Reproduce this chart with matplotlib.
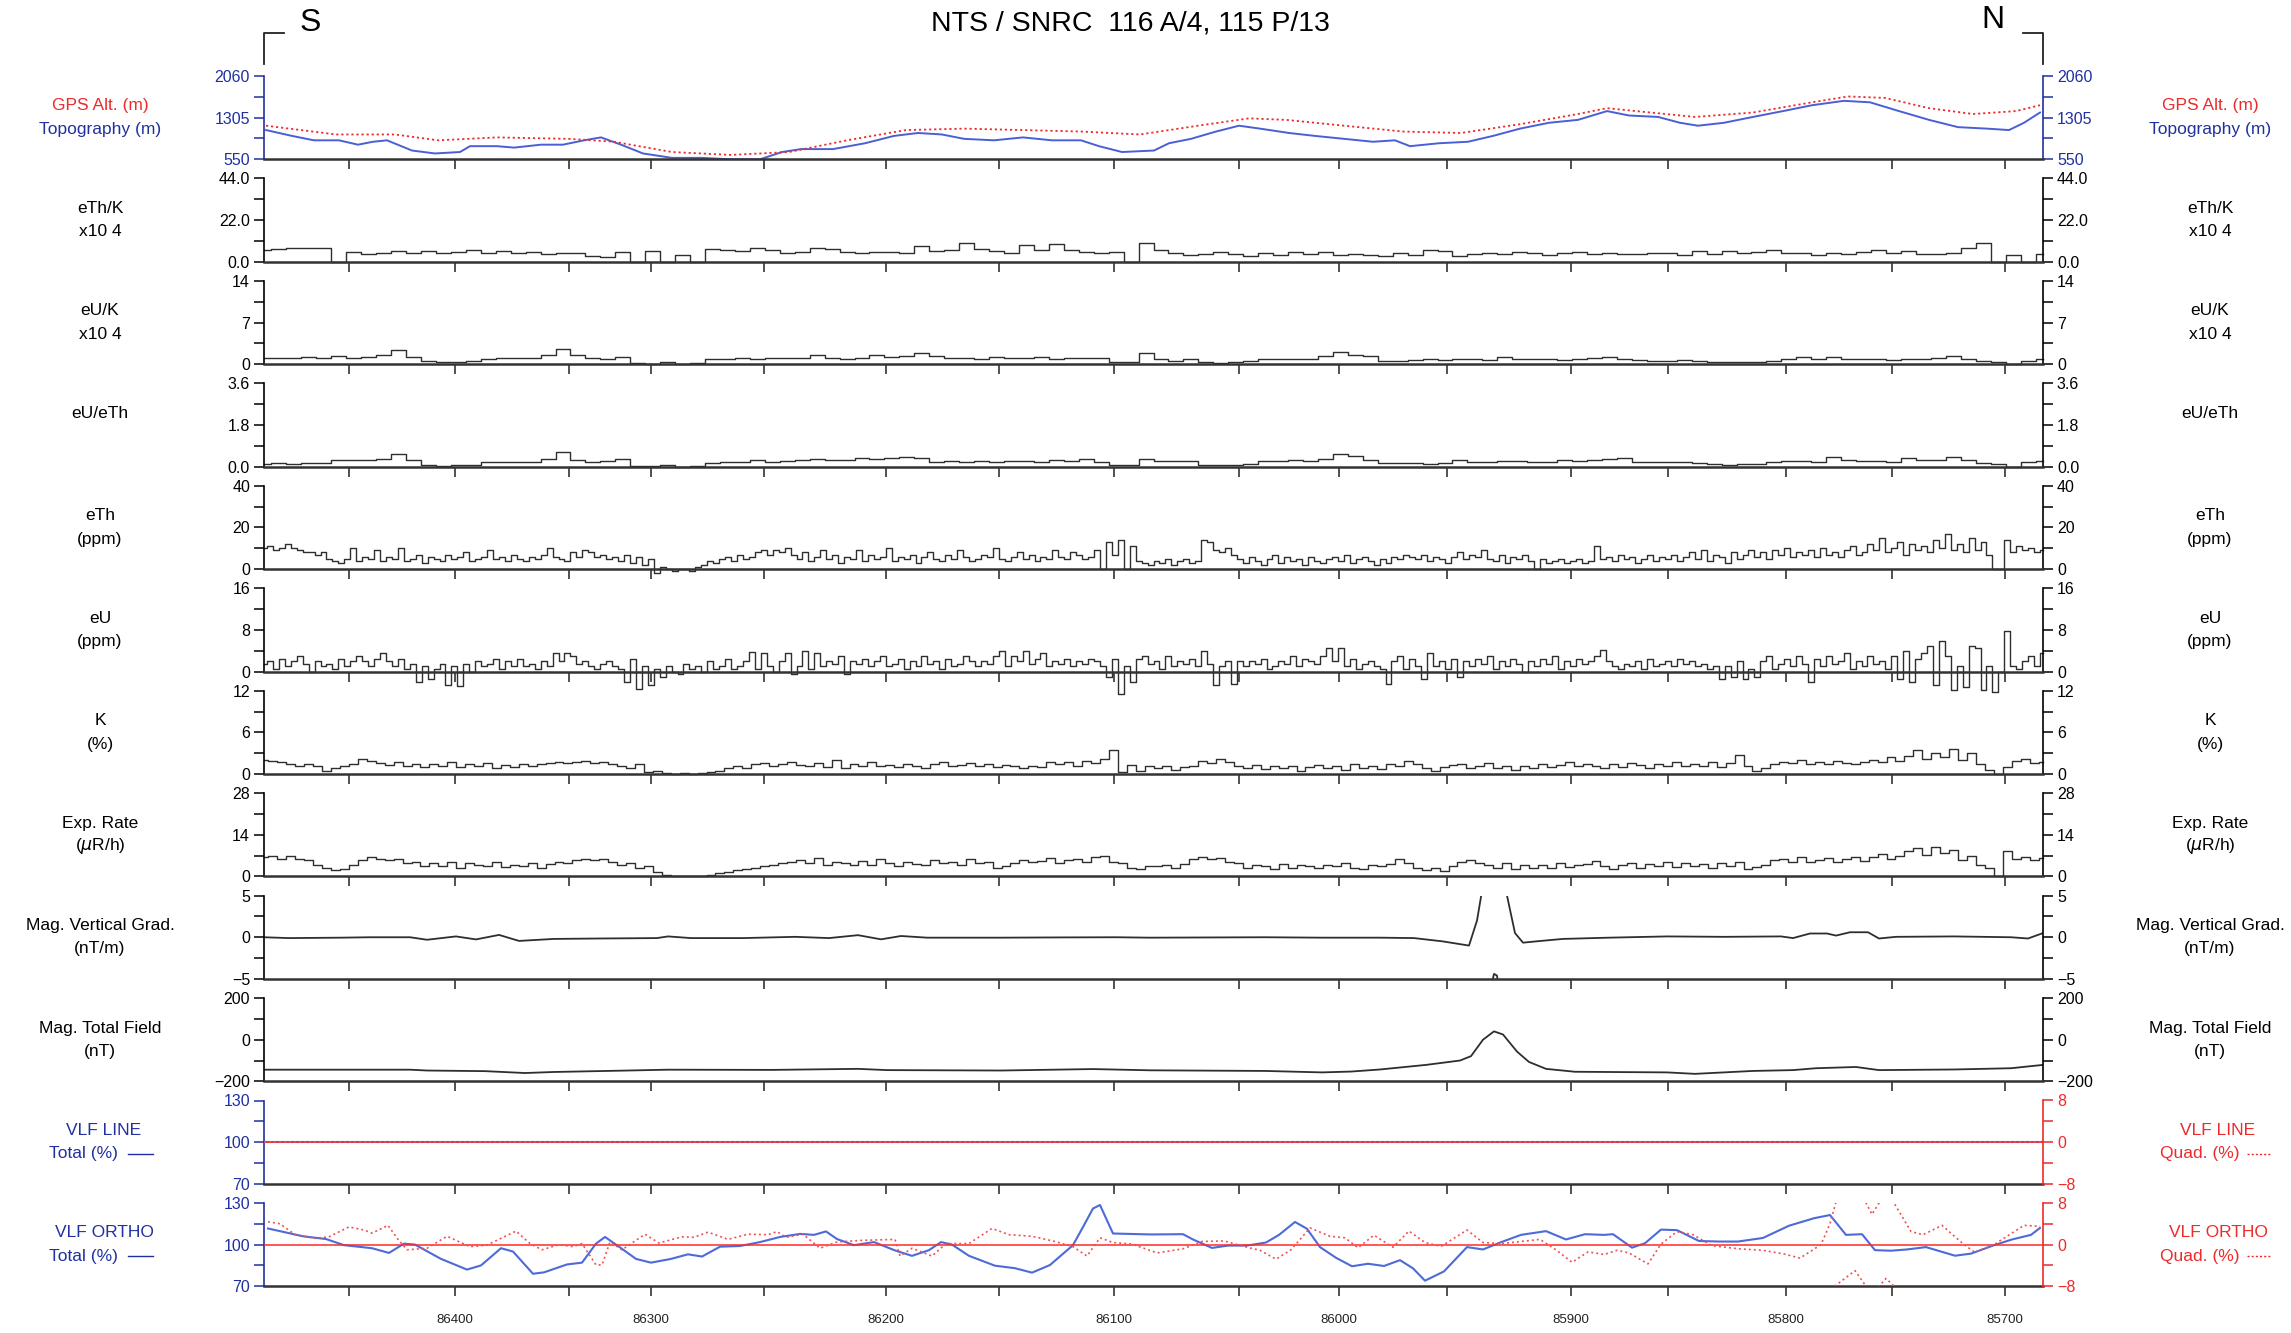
import numpy as np
import matplotlib
matplotlib.use("Agg")
import matplotlib.pyplot as plt
from matplotlib.lines import Line2D

# fonts: narrow for numbers, regular for labels
NARROW = ['Liberation Sans Narrow', 'Liberation Sans', 'DejaVu Sans']
REGULAR = ['Liberation Sans', 'DejaVu Sans']
plt.rcParams['font.family'] = NARROW

RED = '#ee2a2a'
BLUE = '#2030a0'
TRACE = '#2e2e2e'

# ---------------------------------------------------------------
# Data (x = distance along the flight line, km)
LINE_KM = 17.79

# fiducial ticks every 50 and where they fall along the line
fid_ticks = [86450, 86400, 86350, 86300, 86250, 86200, 86150, 86100,
             86050, 86000, 85950, 85900, 85850, 85800, 85750, 85700]
fid_km = [0.85, 1.91, 3.05, 3.87, 5.00, 6.22, 7.35, 8.50,
          9.75, 10.75, 11.83, 13.07, 14.04, 15.22, 16.28, 17.41]

topo_km = [0.02, 0.28, 0.50, 0.75, 0.94, 1.09, 1.23, 1.48, 1.71, 1.96, 2.06, 2.33,
           2.50, 2.77, 2.99, 3.20, 3.37, 3.57, 3.79, 4.08, 4.37, 4.67, 4.96, 5.18,
           5.37, 5.69, 6.01, 6.30, 6.54, 6.78, 7.00, 7.30, 7.59, 7.88, 8.17, 8.35,
           8.58, 8.90, 9.05, 9.27, 9.52, 9.75, 9.96, 10.25, 10.51, 10.80, 11.09, 11.31,
           11.46, 11.75, 12.04, 12.29, 12.56, 12.85, 13.14, 13.43, 13.65, 13.94, 14.16, 14.34,
           14.60, 14.89, 15.19, 15.48, 15.80, 16.06, 16.35, 16.65, 16.94, 17.23, 17.45, 17.60,
           17.76]
topo_m = [1080, 974, 894, 894, 815, 868, 894, 709, 656, 682, 788, 788,
          762, 815, 815, 894, 947, 815, 656, 576, 576, 550, 550, 682,
          735, 735, 841, 974, 1027, 1000, 921, 894, 947, 894, 894, 788,
          682, 709, 841, 921, 1053, 1159, 1106, 1027, 974, 921, 868, 894,
          788, 841, 868, 974, 1106, 1212, 1265, 1424, 1344, 1318, 1212, 1159,
          1212, 1318, 1424, 1530, 1610, 1583, 1424, 1265, 1133, 1106, 1080, 1212,
          1398]

gps_km = [0.02, 0.72, 1.31, 1.74, 2.33, 3.06, 3.50, 4.08, 4.67, 5.25, 5.83, 6.42,
          7.00, 7.59, 8.17, 8.76, 9.34, 9.85, 10.22, 10.80, 11.39, 11.97, 12.56, 13.14,
          13.43, 13.72, 14.31, 14.89, 15.48, 15.84, 16.21, 16.65, 17.09, 17.52, 17.76]
gps_m = [1159, 1000, 1000, 894, 947, 920, 868, 682, 629, 682, 894, 1080,
         1106, 1080, 1053, 1000, 1159, 1292, 1265, 1159, 1053, 1027, 1186, 1371,
         1477, 1424, 1318, 1398, 1583, 1689, 1663, 1477, 1371, 1424, 1530]

eth_k = [6, 6.5, 7.2, 7.5, 7, 0, 5, 4.2, 4.8, 5.5, 4.5, 5.8, 4.8, 5.2, 6, 4.5, 5.5, 4.6, 5, 4.2,
         4.8, 4.5, 3, 2.5, 5, 0, 5.5, 0, 3.5, 0, 6.5, 6, 5.5, 7, 6.2, 4.5, 5, 7.5, 6.5, 5,
         4.5, 5.2, 5, 4.8, 8.5, 5.5, 6, 9.8, 6.5, 5.5, 4.8, 9, 6, 9.4, 6.2, 5, 4.5, 5.2, 0, 10,
         6, 4.5, 3.5, 4, 5.3, 4, 3.2, 4.5, 3.8, 5.3, 4.2, 5.3, 3.5, 4.2, 3.8, 3.2, 4.5, 3.8, 6, 5.8,
         3.2, 4, 4.8, 4.2, 5.2, 4.5, 3.8, 4.5, 5, 4.2, 4.6, 3.9, 4.3, 4.8, 4.5, 3.8, 5.6, 4.2, 5.6, 4.5,
         5, 6.2, 4.5, 4.8, 3.8, 4.5, 4, 5.2, 6.2, 4.8, 5.5, 4.2, 4, 4.6, 7, 9.7, 0, 3.8, 0, 4.2]

eu_k = [1.0, 1.1, 1.0, 1.2, 1.1, 1.3, 1.1, 1.2, 1.6, 2.4, 1.2, 0.5, 0.4, 0.4, 0.5, 0.9, 1.0, 1.0, 1.1, 1.6,
        2.6, 1.6, 1.0, 0.8, 1.2, 0.2, 0.1, 0.3, 0.0, 0.2, 0.8, 0.9, 1.0, 0.9, 1.0, 1.1, 1.0, 1.5, 1.0, 0.9,
        1.1, 1.5, 1.2, 1.4, 1.9, 1.3, 1.0, 1.1, 0.9, 1.2, 1.0, 1.1, 1.2, 0.9, 1.0, 1.1, 1.0, 0.4, 0.4, 1.8,
        0.8, 0.6, 0.9, 0.3, 0.2, 0.3, 0.6, 0.8, 0.9, 0.8, 0.9, 1.3, 2.0, 1.5, 1.3, 0.5, 0.5, 0.7, 0.8, 0.7,
        0.9, 0.8, 0.7, 1.2, 0.9, 0.8, 0.9, 0.7, 0.8, 1.0, 1.2, 0.8, 0.7, 0.6, 0.6, 0.7, 0.6, 0.4, 0.4, 0.3,
        0.4, 0.6, 0.9, 1.2, 0.8, 1.2, 0.9, 0.8, 0.9, 0.7, 0.9, 0.8, 1.0, 1.3, 0.9, 0.5, 0.3, 0.0, 0.6, 0.8]

eu_eth = [0.12, 0.14, 0.10, 0.15, 0.16, 0.27, 0.30, 0.28, 0.33, 0.56, 0.30, 0.06, 0.04, 0.05, 0.07, 0.20, 0.19, 0.21, 0.20, 0.35,
          0.64, 0.30, 0.22, 0.25, 0.33, 0.03, 0.01, 0.05, 0.00, 0.04, 0.17, 0.19, 0.18, 0.27, 0.22, 0.25, 0.28, 0.33, 0.27, 0.30,
          0.37, 0.35, 0.37, 0.43, 0.36, 0.22, 0.25, 0.21, 0.24, 0.22, 0.26, 0.24, 0.21, 0.27, 0.25, 0.32, 0.20, 0.05, 0.08, 0.33,
          0.25, 0.23, 0.26, 0.07, 0.06, 0.08, 0.12, 0.26, 0.25, 0.27, 0.24, 0.35, 0.53, 0.46, 0.30, 0.15, 0.14, 0.16, 0.13, 0.17,
          0.29, 0.22, 0.20, 0.26, 0.24, 0.22, 0.21, 0.27, 0.25, 0.29, 0.33, 0.37, 0.22, 0.18, 0.20, 0.21, 0.17, 0.11, 0.09, 0.13,
          0.12, 0.18, 0.26, 0.24, 0.22, 0.42, 0.28, 0.24, 0.26, 0.22, 0.37, 0.27, 0.30, 0.40, 0.30, 0.15, 0.10, 0.00, 0.20, 0.24]

eth_ppm = [10, 11, 9, 10, 12, 10, 9, 8, 8, 7, 8, 5, 4, 3, 5, 10, 4, 6, 5, 9,
           4, 6, 5, 10, 4, 5, 7, 3, 6, 5, 4, 7, 5, 6, 8, 4, 5, 6, 9, 5,
           6, 4, 7, 5, 4, 6, 5, 7, 10, 6, 5, 4, 8, 6, 9, 8, 6, 7, 5, 6,
           4, 7, 3, 6, 2, 5, -2, 1, 0, -1, 0, 0, -1, 1, 2, 4, 3, 5, 6, 4,
           7, 5, 6, 8, 9, 7, 9, 8, 10, 7, 5, 8, 4, 6, 9, 5, 7, 3, 6, 5,
           9, 4, 7, 5, 6, 10, 4, 6, 5, 7, 3, 6, 8, 5, 4, 7, 5, 9, 6, 4,
           5, 7, 6, 10, 5, 4, 6, 8, 5, 7, 4, 6, 5, 9, 6, 5, 8, 7, 5, 6,
           9, 0, 13, 7, 14, 0, 11, 4, 3, 2, 4, 3, 5, 2, 4, 5, 3, 4, 14, 13,
           9, 8, 10, 7, 5, 3, 6, 4, 2, 5, 7, 3, 6, 4, 5, 2, 6, 4, 3, 5,
           6, 4, 7, 3, 5, 6, 4, 2, 5, 3, 6, 5, 7, 6, 5, 7, 4, 6, 5, 3,
           6, 8, 5, 7, 6, 9, 5, 4, 7, 3, 6, 5, 7, 4, 0, 5, 3, 4, 5, 3,
           4, 5, 3, 4, 11, 5, 6, 4, 7, 5, 6, 3, 5, 7, 4, 6, 5, 7, 4, 6,
           8, 5, 9, 4, 7, 6, 3, 8, 5, 7, 9, 6, 8, 5, 9, 7, 10, 6, 8, 7,
           9, 6, 10, 7, 8, 6, 9, 11, 7, 8, 12, 9, 15, 8, 10, 13, 7, 12, 9, 11,
           8, 14, 10, 17, 9, 12, 8, 15, 9, 13, 7, 0, 0, 14, 8, 11, 9, 10, 8, 9]

eu_ppm = [1.5, 2, 0.5, 2.5, 1, 2, 3, 1.5, 0, 2, 1, 1.5, 0.5, 2.5, 1, 2, 3, 2, 1, 2.5,
          3.5, 2, 1, 2.5, 0.5, 1.5, -2, 1, -1.5, 0.5, 1.5, -2.5, 1, -2.7, 1.5, 0, 2, 1, 1.5, 2.5,
          0.5, 2, 1, 2.5, 1, 1.5, 0.5, 2, 1, 3.5, 2, 3.5, 3, 1.5, 2, 1, 0.5, 1.5, 2, 1,
          0.5, -2, 2.5, -3.3, 1, -2.5, 0.5, -1, 1, 0, -0.5, 1.5, 0.5, 1, 0, 2, 0.5, 1, 2.5, 0.5,
          1, 2, 3.8, 0.5, 3.5, 1, 0, 2, 3.5, -0.5, 1, 4, 0.5, 3.5, 1, 2, 1.5, 3, -0.5, 2,
          1.5, 2.5, 1, 2, 3, 1, 1.5, 2.5, 0.5, 2, 1, 3, 1.5, 2, 0.5, 2.5, 1, 1.5, 3, 2,
          1, 2, 1.5, 3, 4, 1, 3, 2, 4, 1.5, 2.5, 3.5, 1, 2, 1.5, 2.5, 1, 2, 1.5, 2.5,
          2, 1, -1, 2.5, -4.4, 1, -2, 2.5, 3, 1.5, 2, 0.5, 3, 1, 2, 1.5, 2.5, 1, 4, 1.5,
          -2.5, 1, 2, -2.3, 2, 1, 2, 1.5, 2.5, 0.5, 1, 2, 1.5, 3, 1, 2.5, 2, 1.5, 3, 4.6,
          2, 4.5, 1, 2.5, 0.5, 1.5, 2, 1, 0.5, -2.4, 2, 3, 0.5, 2.5, 1, -1.5, 3.5, 1, 2, 0.5,
          2.5, -1, 2, 1, 2.5, 1.5, 3, 0.5, 2, 1, 2.5, 1.5, 0, 2, 1, 2.5, 1.5, 3, 0.5, 2,
          1, 2.5, 1.5, 2, 3, 4.2, 2, 1, 0.5, 1.5, 1, 2, 0.5, 2.5, 1, 1.5, 2, 1, 2.5, 1.5,
          2, 1, 1.5, 0.5, 1, -1.5, 1, -1, 2, -1.5, 0.5, -1, 2, 3, 0.5, 1.5, 2.5, 1, 3, 1.5,
          -2, 2.5, 1, 3, 1.5, 2, 3.5, 0.5, 2, 1, 3, 1.5, 2, 0.5, 3, -1.5, 4, -2, 2.5, 3.5,
          5, -2.5, 5.8, 3, -3.5, 1, -3, 5, 4.5, -3.5, 1, -4, 0, 7.8, 1, 0.5, 2, 3, 1, 3.5]

k_pct = [2, 1.9, 1.7, 1.5, 1.2, 1.4, 1.1, 0.4, 0.8, 1.2, 1.5, 2.1, 1.9, 1.6, 1.3, 1.7, 1.2, 1.4, 1.0, 1.5,
         1.2, 1.8, 1.0, 1.4, 1.1, 1.6, 0.9, 1.3, 1.0, 1.5, 1.2, 1.4, 1.6, 1.8, 1.6, 1.7, 1.9, 1.6, 1.8, 1.4,
         1.2, 0.8, 1.4, 0.3, 0.5, 0.1, 0.0, 0.1, 0.0, 0.1, 0.3, 0.5, 0.8, 1.1, 0.9, 1.4, 1.6, 1.2, 1.5, 1.7,
         1.3, 1.2, 1.6, 1.0, 2.0, 0.9, 1.4, 1.2, 1.7, 1.1, 1.3, 1.0, 1.5, 1.2, 0.9, 1.4, 1.8, 1.1, 1.3, 1.6,
         1.2, 1.5, 1.0, 1.3, 1.1, 0.8, 1.2, 1.0, 1.8, 1.4, 1.7, 1.2, 1.9, 1.6, 2.2, 3.4, 0.3, 1.3, 0.4, 1.2,
         0.8, 1.1, 0.6, 1.0, 1.2, 1.9, 1.6, 2.1, 1.7, 1.2, 0.9, 1.3, 0.7, 1.1, 0.8, 1.2, 0.5, 1.0, 1.3, 0.9,
         1.1, 0.6, 1.4, 0.9, 1.2, 0.7, 1.5, 1.1, 1.9, 1.4, 0.9, 0.5, 1.0, 1.3, 1.5, 0.8, 1.2, 1.6, 0.9, 1.2,
         0.6, 1.1, 0.8, 1.4, 1.0, 1.3, 1.7, 1.1, 1.5, 1.2, 0.8, 1.4, 1.0, 1.6, 1.3, 0.9, 1.5, 1.2, 1.8, 1.1,
         1.5, 1.2, 1.7, 1.0, 1.6, 2.7, 1.2, 0.4, 0.8, 1.5, 1.8, 1.6, 2.0, 1.5, 1.7, 1.4, 1.9, 1.6, 1.5, 1.8,
         2.0, 1.7, 2.4, 1.9, 2.6, 3.4, 2.2, 3.0, 2.5, 3.6, 2.0, 3.0, 1.4, 0.6, 0.0, 1.0, 1.9, 2.1, 1.6, 1.8]

exp_rate = [6.5, 7, 6, 6.8, 6, 5.5, 4, 3, 2, 2.5, 4, 5.5, 6.5, 6, 5.5, 6, 4.5, 5, 3.5, 4.5,
            3.5, 5, 3, 4.5, 4, 3.5, 4.8, 3.2, 4, 3.5, 4.5, 3, 4.2, 5, 4.5, 5.5, 6, 5.5, 5.8, 4.8,
            4, 4.5, 3, 3.5, 1.5, 0.5, 0.2, 0, 0.3, 0.2, 0.5, 1, 1.5, 2, 2.5, 3, 3.5, 4, 4.5, 5,
            5.5, 4.5, 6.2, 4, 5, 4.5, 3.8, 5.2, 4, 6, 4.5, 3.5, 5, 4.2, 3.8, 5.5, 4.5, 5, 4, 5.8,
            4.5, 5, 3, 3.5, 4.5, 5.5, 4.8, 5.2, 6.2, 4.5, 5.5, 6, 5, 6.5, 7, 5, 4.5, 3, 2.5, 3.5,
            3.5, 4, 3, 4.2, 6, 6.5, 5.8, 6.2, 5, 4.5, 3, 4, 3.5, 2.5, 4.2, 3, 4, 3.5, 2.8, 4,
            3.5, 4.5, 3, 2.5, 4, 3.5, 4.2, 5.8, 4.5, 3, 2, 2.8, 1.8, 3.5, 4.8, 5.5, 4.5, 4, 3, 4.5,
            2.5, 3.8, 3, 4, 2.8, 4.5, 3.2, 3.8, 4.2, 5.2, 3.5, 2.5, 3.8, 4.5, 3, 4.2, 3.5, 4.8, 3.2, 4.5,
            3.5, 4.2, 3, 4.6, 3.5, 4.8, 2.5, 3.2, 4, 5.5, 6, 5, 6.5, 4.8, 5.5, 6.2, 5, 5.8, 6.5, 5.2,
            6.5, 7.5, 6, 7, 8.5, 9.5, 7.2, 9.8, 8, 9, 5.5, 7, 4, 3, 0, 8.6, 6, 6.5, 5.5, 6.2]

vg_km = [0.0, 0.25, 0.77, 1.06, 1.46, 1.63, 1.92, 2.12, 2.35, 2.55, 2.90, 3.35,
         3.93, 4.04, 4.27, 4.79, 5.31, 5.65, 5.94, 6.17, 6.37, 6.63, 7.37, 7.95,
         8.52, 8.86, 10.01, 10.58, 11.16, 11.50, 11.79, 12.05, 12.13, 12.20, 12.26, 12.30,
         12.33, 12.37, 12.43, 12.51, 12.59, 12.76, 12.99, 13.45, 14.03, 14.60, 15.17, 15.29,
         15.46, 15.63, 15.72, 15.86, 16.04, 16.15, 16.32, 16.90, 17.47, 17.64, 17.79]
vg_nt = [0.0, -0.1, -0.05, 0.0, 0.0, -0.3, 0.1, -0.26, 0.28, -0.44, -0.2, -0.15,
         -0.1, 0.1, -0.1, -0.1, 0.05, -0.1, 0.25, -0.25, 0.15, -0.05, -0.05, -0.02,
         0.0, -0.05, 0.0, -0.05, -0.05, -0.1, -0.5, -1.0, 2.0, 7.0, 13.5, 15.6,
         15.4, 12.0, 5.0, 0.5, -0.65, -0.45, -0.2, -0.05, 0.1, 0.05, 0.1, -0.1,
         0.45, 0.45, 0.2, 0.6, 0.6, -0.15, 0.05, 0.1, 0.0, -0.15, 0.5]

tf_km = [0.0, 1.46, 1.63, 2.21, 2.61, 2.90, 3.64, 4.04, 5.08, 5.94, 6.23, 7.37,
         8.29, 8.86, 10.01, 10.58, 10.87, 11.16, 11.62, 11.96, 12.07, 12.19, 12.30, 12.39,
         12.53, 12.65, 12.82, 13.11, 14.03, 14.31, 14.89, 15.29, 15.52, 15.92, 16.15, 16.90,
         17.47, 17.79]
tf_nt = [-144, -144, -148, -151, -160, -155, -148, -144, -145, -140, -146, -148,
         -141, -147, -150, -157, -153, -143, -121, -100, -79, 0, 40, 25,
         -57, -107, -140, -154, -157, -164, -150, -146, -137, -131, -146, -143,
         -137, -121]

vlf_line_km = [0.0, LINE_KM]
vlf_line_total = [100.0, 100.0]
vlf_line_quad = [0.0, 0.0]

vlf_tot_km = [0.04, 0.39, 0.62, 0.80, 1.08, 1.25, 1.40, 1.51, 1.77, 2.03, 2.17, 2.37,
              2.49, 2.69, 2.80, 3.03, 3.18, 3.32, 3.41, 3.55, 3.72, 3.87, 4.07, 4.24,
              4.38, 4.56, 4.76, 4.96, 5.16, 5.36, 5.50, 5.62, 5.73, 5.90, 6.10, 6.31,
              6.48, 6.65, 6.77, 6.88, 7.05, 7.31, 7.51, 7.68, 7.86, 8.09, 8.20, 8.29,
              8.36, 8.49, 8.87, 9.19, 9.29, 9.48, 9.64, 9.83, 10.02, 10.15, 10.31, 10.43,
              10.56, 10.72, 10.88, 11.04, 11.20, 11.36, 11.49, 11.61, 11.80, 12.03, 12.19, 12.38,
              12.57, 12.82, 13.02, 13.21, 13.40, 13.49, 13.68, 13.81, 13.97, 14.13, 14.35, 14.55,
              14.74, 14.99, 15.25, 15.50, 15.66, 15.82, 15.98, 16.11, 16.27, 16.43, 16.62, 16.91,
              17.07, 17.29, 17.48, 17.67, 17.76]
vlf_tot = [111.6, 106, 104, 99.6, 97.4, 94, 100.7, 100, 89.7, 82, 85, 97.4,
           95, 79, 80, 85.7, 87, 100.7, 105.5, 98.5, 89.7, 87, 89.7, 93,
           91.4, 98.5, 99, 101.8, 105.5, 107.7, 107, 109.5, 104, 99.6, 101.8, 95.8,
           91.9, 96, 101.8, 100, 91.9, 84.8, 83, 79.8, 85.3, 99.6, 114, 126,
           128.5, 108, 107.3, 107.5, 103.7, 97.6, 99.3, 99.3, 101.5, 107, 116.3, 111.4,
           98.2, 90.5, 84.4, 86.2, 84.6, 88.8, 82.9, 74, 80.7, 98.2, 96.5, 102,
           107, 109.7, 103.7, 107.5, 107, 107.5, 97.8, 101, 110.8, 110.4, 102.6, 102.2,
           102.2, 104.8, 113.6, 119, 121.3, 107, 107.5, 96, 95.6, 96.5, 98.2, 92,
           93.5, 99.3, 103.7, 107, 112]

vlf_quad_km = [0.04, 0.16, 0.31, 0.51, 0.65, 0.85, 1.00, 1.08, 1.24, 1.34, 1.43, 1.63,
               1.83, 2.06, 2.23, 2.52, 2.66, 2.78, 2.95, 3.09, 3.18, 3.32, 3.38, 3.46,
               3.58, 3.81, 3.95, 4.18, 4.30, 4.44, 4.64, 4.84, 5.04, 5.13, 5.22, 5.39,
               5.56, 5.73, 5.96, 6.13, 6.31, 6.36, 6.48, 6.68, 6.82, 7.05, 7.28, 7.45,
               7.68, 7.91, 8.09, 8.23, 8.36, 8.49, 8.68, 8.93, 9.19, 9.38, 9.60, 9.83,
               9.96, 10.12, 10.27, 10.46, 10.66, 10.81, 10.94, 11.10, 11.29, 11.45, 11.61, 11.77,
               12.03, 12.19, 12.38, 12.57, 12.76, 12.92, 13.08, 13.24, 13.40, 13.53, 13.65, 13.84,
               13.97, 14.13, 14.29, 14.48, 14.74, 14.99, 15.20, 15.36, 15.57, 15.66, 15.72, 15.91,
               16.02, 16.08, 16.15, 16.22, 16.30, 16.47, 16.59, 16.78, 17.00, 17.11, 17.30, 17.60,
               17.76]
vlf_quad = [4.4, 4.0, 1.9, 1.2, 1.5, 3.4, 2.8, 2.2, 3.7, 1.0, -1.0, -0.7,
            1.6, -0.4, -0.1, 2.6, 0.2, -1.0, 0.0, -0.4, 0.2, -3.9, -3.9, 0.5,
            -1.0, 2.0, 0.3, 1.5, 1.4, 2.4, 1.0, 2.0, 1.9, 2.5, 1.4, 2.0,
            -0.7, 0.5, 0.8, 0.9, 1.0, -2.2, -0.7, -2.2, 0.2, 0.2, 3.1, 1.9,
            1.6, 0.6, -0.4, -2.2, 1.3, 0.4, 0.1, -1.6, -0.8, 0.6, 0.7, -0.5,
            -1.1, -2.8, -1.0, 3.2, 1.6, 1.3, -0.6, 1.8, -0.5, 2.6, 0.4, -0.35,
            2.8, 0.4, 0.2, 0.6, 1.0, -1.0, -3.4, -1.4, -1.9, -1.1, -1.6, -3.7,
            0.1, 2.5, 1.9, -0.2, -0.8, -1.1, -1.8, -2.6, 0.0, 4.0, 8.2, 11.0,
            8.0, 5.8, 8.0, 9.5, 8.0, 2.5, 1.9, 3.7, 0.0, -1.5, 0.0, 3.7,
            3.5]

# ---------------------------------------------------------------
# Layout (pixels of the 2291x1333 page)
W, H = 2291, 1333
X0, X1 = 264, 2043
TOP0, STEP, PH = 76, 102.45, 83.3
LEFT_LABEL_X, RIGHT_LABEL_X = 100, 2210

fig = plt.figure(figsize=(W / 100, H / 100), dpi=100)


def fx(x):
    return x / W


def fy(y):
    return 1 - y / H


def panel(i, lo, hi, ticklabels, lcolor='black', rcolor='black', last=False):
    top = TOP0 + i * STEP
    ax = fig.add_axes([fx(X0), fy(top + PH), (X1 - X0) / W, PH / H])
    ax.set_xlim(0, LINE_KM)
    ax.set_ylim(lo, hi)
    ax.patch.set_alpha(0)
    ax.spines['top'].set_visible(False)
    ax.spines['bottom'].set_color('#333333')
    ax.spines['bottom'].set_linewidth(1.8)
    ax.spines['left'].set_color(lcolor)
    ax.spines['right'].set_color(rcolor)
    ax.spines['left'].set_linewidth(1.2)
    ax.spines['right'].set_linewidth(1.2)
    ax.set_yticks(np.linspace(lo, hi, 5))
    ax.set_yticklabels([ticklabels[2], '', ticklabels[1], '', ticklabels[0]])
    ax.tick_params(axis='y', direction='out', length=7, width=1.1, labelsize=11.5,
                   pad=3, left=True, right=(rcolor == lcolor), labelleft=True,
                   labelright=(rcolor == lcolor), colors=lcolor)
    ax.set_xticks(fid_km)
    if last:
        ax.set_xticklabels([str(f) if f % 100 == 0 else '' for f in fid_ticks])
    else:
        ax.set_xticklabels([])
    ax.tick_params(axis='x', direction='out', length=7, width=1.1, labelsize=9.5,
                   pad=13, colors='#222222')
    return ax, top


def side_text(top, lines, colors, x, with_key=None):
    cy = top + PH / 2
    ys = [cy - 11.7, cy + 11.7]
    for k, (txt, col) in enumerate(zip(lines, colors)):
        if with_key is not None and k == 1:
            tx, key_x0, key_x1, ls = with_key
            fig.text(fx(tx), fy(ys[k]), txt, color=col, ha='right', va='center',
                     fontsize=12.5, family=REGULAR)
            fig.add_artist(Line2D([fx(key_x0), fx(key_x1)], [fy(ys[k]), fy(ys[k])],
                                  color=col, lw=1.0, ls=ls))
        else:
            fig.text(fx(x), fy(ys[k]), txt, color=col, ha='center', va='center',
                     fontsize=12.5, family=REGULAR)


xs_rad = np.linspace(0, LINE_KM, len(eth_ppm))
xs_kx = np.linspace(0, LINE_KM, len(k_pct))
xs_ratio = np.linspace(0, LINE_KM, len(eth_k))

# 1 GPS altitude / topography
ax, top = panel(0, 550, 2060, ['2060', '1305', '550'], BLUE, BLUE)
ax.plot(topo_km, topo_m, color='#4a5ed6', lw=1.4)
ax.plot(gps_km, gps_m, color=RED, lw=1.3, ls=(0, (1.2, 1.6)))
side_text(top, ['GPS Alt. (m)', 'Topography (m)'], [RED, BLUE], LEFT_LABEL_X)
side_text(top, ['GPS Alt. (m)', 'Topography (m)'], [RED, BLUE], RIGHT_LABEL_X)

# radiometric panels
radio = [
    (1, 0, 44, ['44.0', '22.0', '0.0'], xs_ratio, eth_k, ['eTh/K', 'x10 4']),
    (2, 0, 14, ['14', '7', '0'], xs_ratio, eu_k, ['eU/K', 'x10 4']),
    (3, 0, 3.6, ['3.6', '1.8', '0.0'], xs_ratio, eu_eth, ['eU/eTh']),
    (4, 0, 40, ['40', '20', '0'], xs_rad, eth_ppm, ['eTh', '(ppm)']),
    (5, 0, 16, ['16', '8', '0'], xs_rad, eu_ppm, ['eU', '(ppm)']),
    (6, 0, 12, ['12', '6', '0'], xs_kx, k_pct, ['K', '(%)']),
    (7, 0, 28, ['28', '14', '0'], xs_kx, exp_rate, ['Exp. Rate', r'($\mu$R/h)']),
]
for i, lo, hi, tl, xs, vals, lab in radio:
    ax, top = panel(i, lo, hi, tl)
    ax.plot(xs, vals, color=TRACE, lw=1.0, drawstyle='steps-mid', clip_on=False)
    cols = ['black'] * len(lab)
    side_text(top, lab, cols, LEFT_LABEL_X)
    side_text(top, lab, cols, RIGHT_LABEL_X)

# magnetic vertical gradient (values above the range wrap to the bottom)
ax, top = panel(8, -5, 5, ['5', '0', '\u22125'])
ax.plot(vg_km, vg_nt, color=TRACE, lw=1.3)
ax.plot(vg_km, np.array(vg_nt) - 20, color=TRACE, lw=1.3)
side_text(top, ['Mag. Vertical Grad.', '(nT/m)'], ['black'] * 2, LEFT_LABEL_X)
side_text(top, ['Mag. Vertical Grad.', '(nT/m)'], ['black'] * 2, RIGHT_LABEL_X)

# magnetic total field
ax, top = panel(9, -200, 200, ['200', '0', '\u2212200'])
ax.plot(tf_km, tf_nt, color=TRACE, lw=1.3)
side_text(top, ['Mag. Total Field', '(nT)'], ['black'] * 2, LEFT_LABEL_X)
side_text(top, ['Mag. Total Field', '(nT)'], ['black'] * 2, RIGHT_LABEL_X)

# VLF panels: total on the left (blue), quadrature on the right (red)
vlf = [
    (10, 'VLF LINE', vlf_line_km, vlf_line_total, vlf_line_km, vlf_line_quad),
    (11, 'VLF ORTHO', vlf_tot_km, vlf_tot, vlf_quad_km, vlf_quad),
]
for i, name, tkm, tot, qkm, quad in vlf:
    ax, top = panel(i, 70, 130, ['130', '100', '70'], BLUE, RED, last=(i == 11))
    ax.spines['right'].set_visible(False)
    ax2 = ax.twinx()
    ax2.set_ylim(-8, 8)
    ax2.set_xlim(0, LINE_KM)
    for s in ['top', 'bottom', 'left']:
        ax2.spines[s].set_visible(False)
    ax2.spines['right'].set_color(RED)
    ax2.spines['right'].set_linewidth(1.2)
    ax2.set_yticks(np.linspace(-8, 8, 5))
    ax2.set_yticklabels(['\u22128', '', '0', '', '8'])
    ax2.tick_params(axis='y', direction='out', length=7, width=1.1, labelsize=11.5,
                    pad=3, colors=RED)
    ax2.axhline(0, color='#ff2a2a', lw=1.1)
    ax.plot(tkm, tot, color='#4d6ad8', lw=1.5)
    ax2.plot(qkm, quad, color='#f25050', lw=1.2, ls=(0, (1.2, 1.8)))
    ax2.plot(qkm, np.array(quad) - 16, color='#f25050', lw=1.2, ls=(0, (1.2, 1.8)))
    side_text(top, [name, 'Total (%)'], [BLUE, BLUE], 104, with_key=(118, 128, 153, '-'))
    side_text(top, [name, 'Quad. (%)'], [RED, RED], 2218, with_key=(2240, 2247, 2270, (0, (1.5, 1.5))))

# header: title and S / N brackets
fig.text(fx(1130), fy(24), 'NTS / SNRC  116 A/4, 115 P/13', ha='center', va='center',
         fontsize=20.5, family=REGULAR)
fig.text(fx(310), fy(23), 'S', ha='center', va='center', fontsize=23, family=REGULAR)
fig.text(fx(1993), fy(20), 'N', ha='center', va='center', fontsize=23, family=REGULAR)
fig.add_artist(Line2D([fx(284), fx(264), fx(264)], [fy(33), fy(33), fy(64)],
                      color='#222222', lw=1.3))
fig.add_artist(Line2D([fx(2023), fx(2043), fx(2043)], [fy(33), fy(33), fy(64)],
                      color='#222222', lw=1.3))

fig.savefig('out.png', dpi=100, facecolor='white')
